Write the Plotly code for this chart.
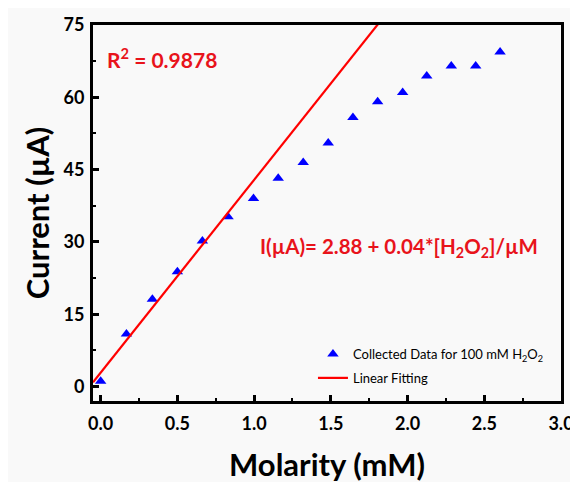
import plotly.graph_objects as go

# ---- data ----
molarity_mM = [0.0, 0.168, 0.337, 0.500, 0.663, 0.830, 0.996, 1.157, 1.320, 1.483,
               1.644, 1.805, 1.968, 2.125, 2.285, 2.444, 2.603]
current_uA = [1.1, 10.9, 18.1, 23.8, 30.2, 35.2, 39.0, 43.2, 46.5, 50.5,
              55.8, 59.1, 61.0, 64.4, 66.5, 66.5, 69.4]

fit_intercept = 2.88      # µA
fit_slope_per_mM = 40.0   # 0.04 µA/µM
fit_x_range = [-0.05, 2.0]
r_squared = "0.9878"

x_ticks = [0.0, 0.5, 1.0, 1.5, 2.0, 2.5, 3.0]
y_ticks = [0, 15, 30, 45, 60, 75]

FONT = "Lato"
RED = "#e8131b"
BG = "#f9f9f9"

fit_y = [fit_intercept + fit_slope_per_mM * x for x in fit_x_range]

fig = go.Figure()
fig.add_trace(go.Scatter(
    x=molarity_mM, y=current_uA, mode="markers",
    marker=dict(symbol="triangle-up", size=10, color="#0000ff"),
    name="Collected Data for 100 mM H<sub>2</sub>O<sub>2</sub>",
    legendgroup="a",
))
fig.add_trace(go.Scatter(
    x=fit_x_range, y=fit_y, mode="lines",
    line=dict(color="#ff0000", width=2.2),
    name="Linear Fitting",
    legendgroup="b",
))

fig.add_annotation(x=0.03, y=68.2, xref="x", yref="y", xanchor="left", yanchor="middle",
                   text="R<sup>2</sup> = " + r_squared, showarrow=False,
                   font=dict(family=FONT, size=21, color=RED, weight="bold"))
fig.add_annotation(x=1.024, y=28.9, xref="x", yref="y", xanchor="left", yanchor="middle",
                   text="I(µA)= 2.88 + 0.04*[H<sub>2</sub>O<sub>2</sub>]/µM", showarrow=False,
                   font=dict(family=FONT, size=20.5, color=RED, weight="bold"))

axis_common = dict(
    showline=True, linewidth=3, linecolor="black", mirror=True,
    ticks="inside", ticklen=6, tickwidth=3, tickcolor="black",
    showgrid=False, zeroline=False,
    tickfont=dict(family=FONT, size=18, color="black", weight="bold"),
)

fig.update_xaxes(
    range=[-0.05, 3.0], tickvals=x_ticks, tickformat=".1f", ticklabelstandoff=4,
    minor=dict(ticks="inside", ticklen=3, tickwidth=2, tickcolor="black", dtick=0.25, tick0=0),
    title=dict(text="Molarity (mM)", font=dict(family=FONT, size=31, color="black", weight="bold"),
               standoff=22),
    **axis_common,
)
fig.update_yaxes(
    range=[-3, 75], tickvals=y_ticks, ticklabelstandoff=2,
    minor=dict(ticks="inside", ticklen=3, tickwidth=2, tickcolor="black", dtick=7.5, tick0=0),
    title=dict(text="Current (µA)", font=dict(family=FONT, size=31, color="black", weight="bold"),
               standoff=5),
    **axis_common,
)

# page body adds an 8px offset; margins compensate so the plot area lands at
# x 93..561, y 25..401 of the window
fig.update_layout(
    width=578, height=482,
    margin=dict(l=85, r=25, t=17, b=89, autoexpand=False),
    paper_bgcolor=BG, plot_bgcolor=BG,
    font=dict(family=FONT, color="black"),
    showlegend=True,
    legend=dict(
        x=0.470, y=0.093, xanchor="left", yanchor="middle",
        bgcolor="rgba(0,0,0,0)", borderwidth=0,
        font=dict(family=FONT, size=13, color="black"),
        traceorder="grouped", tracegroupgap=4,
    ),
)

fig.write_html("out.html")
